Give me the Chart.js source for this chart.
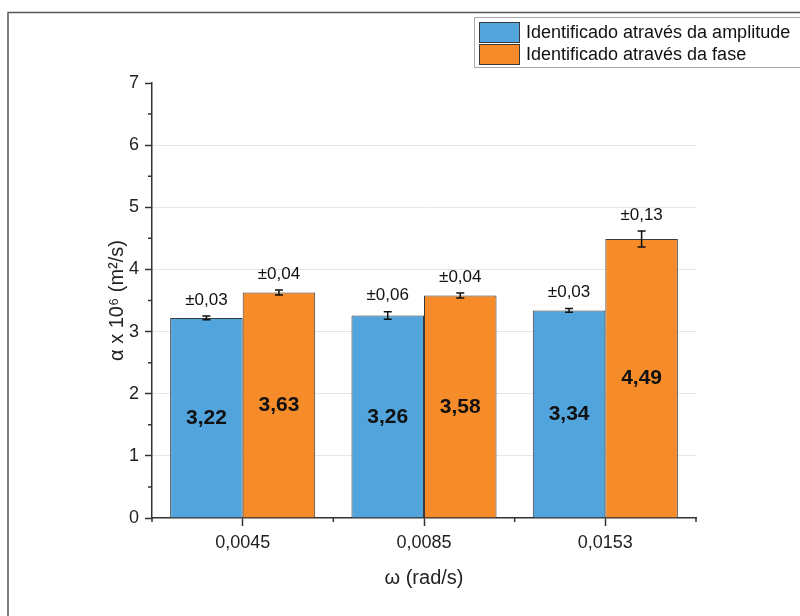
<!DOCTYPE html>
<html>
<head>
<meta charset="utf-8">
<script src="https://cdn.jsdelivr.net/npm/chart.js@4"></script>
<style>
  html, body { margin:0; padding:0; background:#fff; }
  #wrap { width:800px; height:616px; }
</style>
</head>
<body>
<div id="wrap"><canvas id="chart" width="800" height="616"></canvas></div>
<script>
// Dados
const categories = ['0,0045', '0,0085', '0,0153'];
const seriesNames = ['Identificado através da amplitude', 'Identificado através da fase'];
const ampValues = [3.22, 3.26, 3.34];
const faseValues = [3.63, 3.58, 4.49];
const ampErr = [0.03, 0.06, 0.03];
const faseErr = [0.04, 0.04, 0.13];
const yTicks = [0, 1, 2, 3, 4, 5, 6, 7];

// Paleta
const blue = '#52a5dc', orange = '#f68b2a', edge = '#3a3a3a', axis = '#333';
const FONT = '"Liberation Sans", Arial, sans-serif';
const fmt = v => v.toFixed(2).replace('.', ',');

// Barras de erro, rótulos, ticks menores, moldura e legenda
const extras = {
  id: 'extras',
  afterDatasetsDraw(chart) {
    const { ctx, scales: { x, y }, chartArea: ca } = chart;
    const errs = [ampErr, faseErr];
    ctx.save();
    chart.data.datasets.forEach((ds, di) => {
      chart.getDatasetMeta(di).data.forEach((bar, i) => {
        const v = ds.data[i], e = errs[di][i];
        const yt = y.getPixelForValue(v + e), yb = y.getPixelForValue(v - e);
        ctx.strokeStyle = '#111'; ctx.lineWidth = 1.5;
        ctx.beginPath();
        ctx.moveTo(bar.x, yt); ctx.lineTo(bar.x, yb);
        ctx.moveTo(bar.x - 4, yt); ctx.lineTo(bar.x + 4, yt);
        ctx.moveTo(bar.x - 4, yb); ctx.lineTo(bar.x + 4, yb);
        ctx.stroke();
        ctx.fillStyle = '#111';
        ctx.textAlign = 'center'; ctx.textBaseline = 'middle';
        ctx.font = '17px ' + FONT;
        ctx.fillText('±' + fmt(e), bar.x, yt - 16);
        ctx.font = 'bold 21px ' + FONT;
        ctx.fillText(fmt(v), bar.x, y.getPixelForValue(v / 2));
      });
    });
    // ticks menores
    ctx.strokeStyle = axis; ctx.lineWidth = 1.5;
    ctx.beginPath();
    for (let v = 0.5; v < 7; v += 1) {
      const py = y.getPixelForValue(v);
      ctx.moveTo(ca.left, py); ctx.lineTo(ca.left - 4, py);
    }
    const step = (ca.right - ca.left) / categories.length;
    for (let i = 0; i <= categories.length; i++) {
      const px = ca.left + i * step;
      ctx.moveTo(px, ca.bottom); ctx.lineTo(px, ca.bottom + 4);
    }
    ctx.stroke();
    ctx.restore();
  },
  afterDraw(chart) {
    const { ctx } = chart;
    ctx.save();
    // moldura
    ctx.strokeStyle = '#555'; ctx.lineWidth = 1.5;
    ctx.beginPath();
    ctx.moveTo(8, 616); ctx.lineTo(8, 12.5); ctx.lineTo(800, 12.5);
    ctx.stroke();
    // legenda
    ctx.fillStyle = '#fff';
    ctx.fillRect(474.5, 17.5, 330, 50);
    ctx.strokeStyle = '#aaa'; ctx.lineWidth = 1;
    ctx.strokeRect(474.5, 17.5, 330, 50);
    [blue, orange].forEach((c, i) => {
      const top = 22 + i * 22;
      ctx.fillStyle = c;
      ctx.fillRect(479, top, 41, 21);
      ctx.strokeStyle = edge; ctx.lineWidth = 1;
      ctx.strokeRect(479.5, top + 0.5, 40, 20);
      ctx.fillStyle = '#111';
      ctx.font = '18px ' + FONT;
      ctx.textAlign = 'left'; ctx.textBaseline = 'middle';
      ctx.fillText(seriesNames[i], 526, top + 11);
    });
    ctx.restore();
  }
};

new Chart(document.getElementById('chart'), {
  type: 'bar',
  data: {
    labels: categories,
    datasets: [
      { label: seriesNames[0], data: ampValues, backgroundColor: blue, borderColor: edge, borderWidth: 1 },
      { label: seriesNames[1], data: faseValues, backgroundColor: orange, borderColor: edge, borderWidth: 1 }
    ]
  },
  options: {
    responsive: false, animation: false,
    layout: { padding: { left: 8, top: 83, right: 104, bottom: 0 } },
    categoryPercentage: 0.8, barPercentage: 1.0,
    scales: {
      x: {
        offset: true,
        afterFit: s => { s.height = 98; },
        grid: { drawOnChartArea: false, offset: false, tickLength: 8, tickColor: axis, tickWidth: 1.5 },
        border: { color: axis, width: 1.5 },
        ticks: { color: '#222', padding: 6, font: { family: FONT, size: 18 } },
        title: { display: true, text: 'ω (rad/s)', color: '#222', padding: { top: 0, bottom: 26 },
                 font: { family: FONT, size: 20 } }
      },
      y: {
        min: 0, max: 7,
        afterFit: s => { s.width = 144; },
        afterBuildTicks: s => { s.ticks = yTicks.map(v => ({ value: v })); },
        grid: {
          color: c => (c.tick && c.tick.value > 0 && c.tick.value < 7) ? '#e6e6e6' : 'rgba(0,0,0,0)',
          tickColor: axis, tickLength: 7, tickWidth: 1.5
        },
        border: { color: axis, width: 1.5 },
        ticks: { color: '#222', padding: 6, font: { family: FONT, size: 18 } },
        title: { display: true, text: 'α x 10⁶ (m²/s)', color: '#222', padding: { top: 97, bottom: 0 },
                 font: { family: FONT, size: 20 } }
      }
    },
    plugins: { legend: { display: false }, tooltip: { enabled: false } }
  },
  plugins: [extras]
});
</script>
</body>
</html>
